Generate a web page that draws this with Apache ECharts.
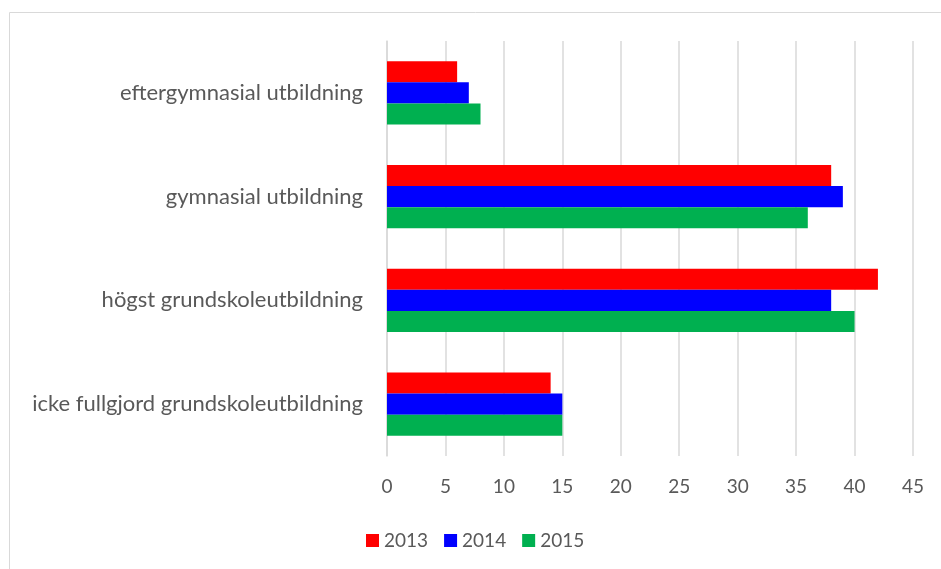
<!DOCTYPE html>
<html>
<head>
<meta charset="utf-8">
<script src="https://cdn.jsdelivr.net/npm/echarts@6/dist/echarts.min.js"></script>
<style>
  html, body { margin: 0; padding: 0; background: #fff; }
  #chart { width: 941px; height: 569px; }
</style>
</head>
<body>
<div id="chart"></div>
<script>
// utbildningsnivå
const categories = [
  'eftergymnasial utbildning',
  'gymnasial utbildning',
  'högst grundskoleutbildning',
  'icke fullgjord grundskoleutbildning'
];
const years = ['2013', '2014', '2015'];
const values2013 = [6, 38, 42, 14];
const values2014 = [7, 39, 38, 15];
const values2015 = [8, 36, 40, 15];
const colors = ['#FF0000', '#0000FF', '#00B050'];

const chart = echarts.init(document.getElementById('chart'));
const font = 'Lato, "Open Sans", sans-serif';

const option = {
  animation: false,
  color: colors,
  graphic: [{
    type: 'rect',
    shape: { x: 9.5, y: 12.5, width: 1000, height: 700 },
    style: { fill: 'none', stroke: '#d9d9d9', lineWidth: 1 },
    silent: true
  }],
  legend: {
    data: years,
    left: 361,
    top: 526,
    itemWidth: 13,
    itemHeight: 13,
    itemGap: 16,
    icon: 'rect',
    textStyle: { color: '#595959', fontSize: 19, fontFamily: font }
  },
  grid: {
    left: 387,
    right: 28,
    top: 41,
    bottom: 113,
    containLabel: false
  },
  xAxis: {
    type: 'value',
    min: 0,
    max: 45,
    interval: 5,
    axisLine: { show: false },
    axisTick: { show: false },
    axisLabel: { color: '#595959', fontSize: 19, fontFamily: font, margin: 21 },
    splitLine: { lineStyle: { color: '#d9d9d9', width: 1.5 } }
  },
  yAxis: {
    type: 'category',
    data: categories,
    inverse: true,
    axisLine: { show: true, lineStyle: { color: '#d9d9d9', width: 1.5 } },
    axisTick: { show: false },
    axisLabel: { color: '#595959', fontSize: 22, fontFamily: font, margin: 24 }
  },
  series: [
    { name: years[0], type: 'bar', data: values2013, barGap: '0%', barCategoryGap: '39%' },
    { name: years[1], type: 'bar', data: values2014, barGap: '0%', barCategoryGap: '39%' },
    { name: years[2], type: 'bar', data: values2015, barGap: '0%', barCategoryGap: '39%' }
  ]
};

chart.setOption(option);
window.addEventListener('resize', function () {
  chart.resize();
});
</script>
</body>
</html>
